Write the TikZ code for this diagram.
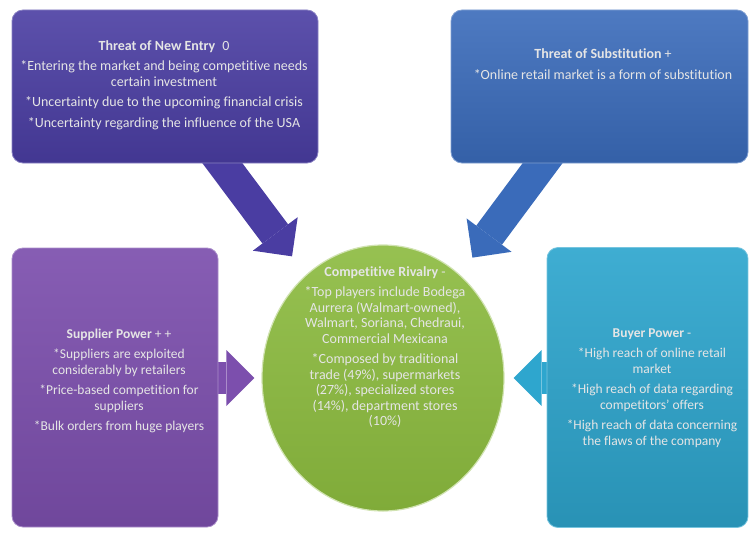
\documentclass[tikz,border=0pt]{standalone}
\usepackage{fontspec}
\setmainfont{Carlito}[Ligatures={NoCommon}]
\usepackage{tikz}
\usetikzlibrary{arrows.meta, shapes.geometric, backgrounds}

\definecolor{entrycol}{HTML}{4A3DA2}
\definecolor{substcol}{HTML}{3A6BBA}
\definecolor{supplcol}{HTML}{7C4FAD}
\definecolor{buyercol}{HTML}{2EA6CE}
\definecolor{rivalcol}{HTML}{8BBA3E}

\begin{document}
\begin{tikzpicture}[x=1pt, y=-1pt,
                box/.style={rectangle, rounded corners=11pt, inner sep=0pt, line width=0.8pt},
                txt/.style={align=center, inner sep=0pt, text=white!90!black, font=\fontsize{14}{15.5}\selectfont},
                bigarrow/.style={line width=32pt, -{Triangle[length=28pt, width=56pt, line width=0pt]}}]
                        \useasboundingbox (0, 0) rectangle (751, 535);
                        % the five forces
                        \node[box, minimum width=306pt, minimum height=153pt, draw=entrycol!65!white,
                              top color=entrycol!90!white, bottom color=entrycol!90!black] (entry) at (165, 86.5){};
                        \node[box, minimum width=297pt, minimum height=153pt, draw=substcol!65!white,
                              top color=substcol!90!white, bottom color=substcol!90!black] (subst) at (599.5, 86.5){};
                        \node[box, minimum width=206pt, minimum height=279pt, draw=supplcol!65!white,
                              top color=supplcol!92!white, bottom color=supplcol!90!black] (supplier) at (115, 387.5){};
                        \node[box, minimum width=201pt, minimum height=280pt, draw=buyercol!65!white,
                              top color=buyercol!92!white, bottom color=buyercol!88!black] (buyer) at (647.5, 387.5){};
                        \node[ellipse, minimum width=242pt, minimum height=266pt, inner sep=0pt, line width=1.2pt,
                              draw=rivalcol!40!white, top color=rivalcol!90!white, bottom color=rivalcol!92!black] (rivalry) at (383, 378){};
                        % block arrows behind the boxes
                        \begin{scope}[on background layer]
                                \draw[bigarrow, color=entrycol, shorten >=23pt] (entry.center) -- (rivalry);
                                \draw[bigarrow, color=substcol, shorten >=21pt] (subst.center) -- (rivalry);
                                \draw[bigarrow, color=supplcol, shorten >=7pt] (supplier.center |- rivalry.center) -- (rivalry.west);
                                \draw[bigarrow, color=buyercol, shorten >=9pt] (buyer.center |- rivalry.center) -- (rivalry.east);
                        \end{scope}
                        % texts
                        \node[txt] (entrytext) at (164, 85){\textbf{Threat of New Entry}\enspace 0\\[5pt]
                              *Entering the market and being competitive needs\\ certain investment\\[5pt]
                              *Uncertainty due to the upcoming financial crisis\\[5pt]
                              *Uncertainty regarding the influence of the USA};
                        \node[txt] (substtext) at (603, 64){\textbf{Threat of Substitution} +\\[5pt]
                              *Online retail market is a form of substitution};
                        \node[txt, font=\fontsize{13.5}{15.5}\selectfont] (supplitext) at (119, 381){\textbf{Supplier Power} + +\\[5pt]
                              *Suppliers are exploited\\ considerably by retailers\\[5pt]
                              *Price-based competition for\\ suppliers\\[5pt]
                              *Bulk orders from huge players};
                        \node[txt, font=\fontsize{13.5}{15.5}\selectfont] (buyertext) at (652, 388){\textbf{Buyer Power} -\\[5pt]
                              *High reach of online retail\\ market\\[5pt]
                              *High reach of data regarding\\ competitors' offers\\[5pt]
                              *High reach of data concerning\\ the flaws of the company};
                        \node[txt] (rivaltext) at (385, 347){\textbf{Competitive Rivalry} -\\[5pt]
                              *Top players include Bodega\\ Aurrera (Walmart-owned),\\ Walmart, Soriana, Chedraui,\\ Commercial Mexicana\\[5pt]
                              *Composed by traditional\\ trade (49\%), supermarkets\\ (27\%), specialized stores\\ (14\%), department stores\\ (10\%)};
                \end{tikzpicture}
\end{document}
